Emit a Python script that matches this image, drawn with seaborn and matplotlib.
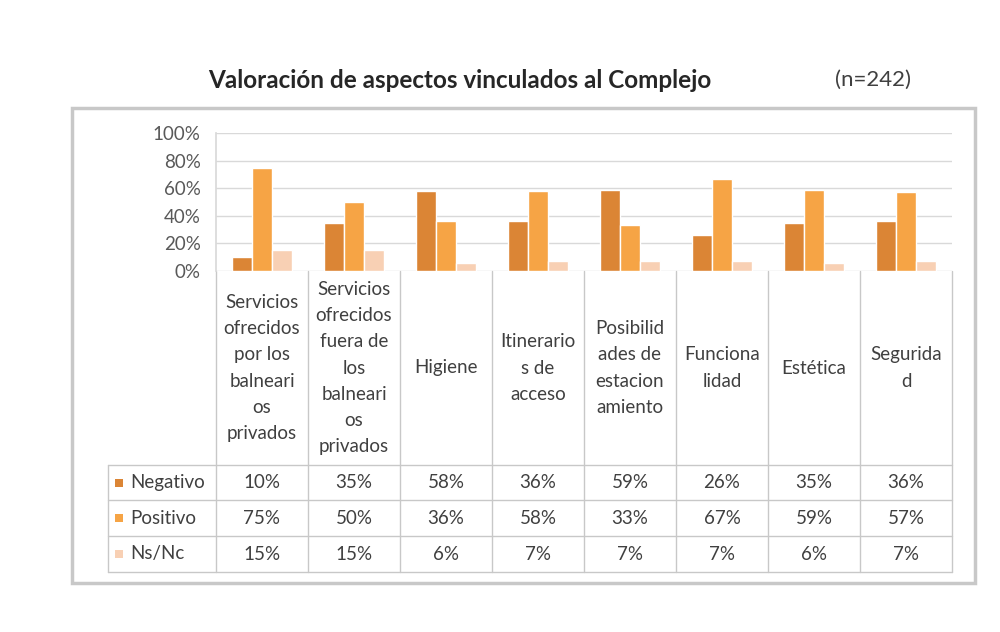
import matplotlib
matplotlib.use('Agg')
import matplotlib.pyplot as plt
from matplotlib.patches import Rectangle
import seaborn as sns
import pandas as pd

# data
categorias = ['Servicios\nofrecidos\npor los\nbalneari\nos\nprivados',
              'Servicios\nofrecidos\nfuera de\nlos\nbalneari\nos\nprivados',
              'Higiene',
              'Itinerario\ns de\nacceso',
              'Posibilid\nades de\nestacion\namiento',
              'Funciona\nlidad',
              'Estética',
              'Segurida\nd']
series = ['Negativo', 'Positivo', 'Ns/Nc']
negativo = [10, 35, 58, 36, 59, 26, 35, 36]
positivo = [75, 50, 36, 58, 33, 67, 59, 57]
ns_nc = [15, 15, 6, 7, 7, 7, 6, 7]
y_ticks = [0, 20, 40, 60, 80, 100]

colores = ['#DB8535', '#F6A445', '#F8D0B4']
txt = '#404040'
grid_c = '#D9D9D9'
line_c = '#C8C8C8'

df = pd.DataFrame({'cat': list(range(8)) * 3,
                   'serie': [s for s in series for _ in range(8)],
                   'valor': negativo + positivo + ns_nc})

sns.set_theme(style='white')
plt.rcParams['font.family'] = ['Lato', 'DejaVu Sans']

W, H = 1000, 632
fig = plt.figure(figsize=(10, 6.32), dpi=100)

# overlay in pixel coords for frame and table
ov = fig.add_axes([0, 0, 1, 1])
ov.set_xlim(0, W)
ov.set_ylim(H, 0)
ov.axis('off')

x_left, x_right = 216, 952
y0, y100 = 271, 133
col_w = (x_right - x_left) / 8
fs = 13.5

# bar area
ax = fig.add_axes([x_left / W, 1 - y0 / H, (x_right - x_left) / W, (y0 - y100) / H])
sns.barplot(data=df, x='cat', y='valor', hue='serie', palette=colores, width=0.65,
            gap=0, ax=ax, legend=False, saturation=1, native_scale=True)
ax.set_xlim(-0.5, 7.5)
ax.set_ylim(0, 100)
ax.set_yticks(y_ticks)
ax.set_yticklabels([f'{v}%' for v in y_ticks], fontsize=fs, color='#595959')
ax.set_xticks([])
ax.set_xlabel('')
ax.set_ylabel('')
ax.yaxis.grid(True, color=grid_c, lw=1)
ax.set_axisbelow(True)
for s in ['top', 'right', 'bottom']:
    ax.spines[s].set_visible(False)
ax.spines['left'].set_color(grid_c)
ax.tick_params(axis='y', length=0, pad=11)
ax.patch.set_alpha(0)

# outer frame
ov.add_patch(Rectangle((72, 108), 903, 475, fill=False, ec=line_c, lw=2.5))

# title
ov.text(208, 80, 'Valoración de aspectos vinculados al Complejo', fontsize=17.5,
        fontweight='bold', color='#262626', ha='left', va='center')
ov.text(835, 80, '(n=242)', fontsize=16, color='#404040', ha='left', va='center')

# table grid
row_y = [465, 500, 536, 572]
tbl_left = 108
for i in range(9):
    xv = x_left + i * col_w
    ov.plot([xv, xv], [y0, row_y[-1]], color=line_c, lw=1)
ov.plot([tbl_left, tbl_left], [row_y[0], row_y[-1]], color=line_c, lw=1)
for yv in row_y:
    ov.plot([tbl_left, x_right], [yv, yv], color=line_c, lw=1)

# category labels
for i, c in enumerate(categorias):
    ov.text(x_left + (i + 0.5) * col_w, (y0 + row_y[0]) / 2, c, ha='center',
            va='center', multialignment='center', fontsize=fs, color=txt,
            linespacing=1.65)

# rows
vals = [negativo, positivo, ns_nc]
for r, (name, v, col) in enumerate(zip(series, vals, colores)):
    yc = (row_y[r] + row_y[r + 1]) / 2
    ov.add_patch(Rectangle((115, yc - 4), 8, 8, color=col, lw=0))
    ov.text(130, yc, name, ha='left', va='center', fontsize=fs, color=txt)
    for i, val in enumerate(v):
        ov.text(x_left + (i + 0.5) * col_w, yc, f'{val}%', ha='center',
                va='center', fontsize=fs, color=txt)

fig.savefig('out.png', dpi=100)
